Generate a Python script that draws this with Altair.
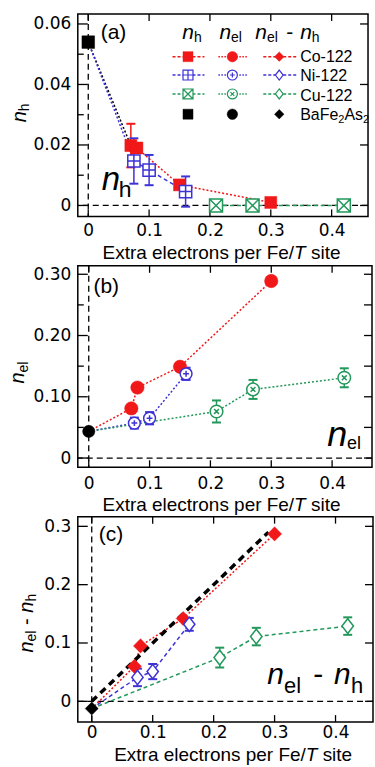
import altair as alt
import pandas as pd

# ---------------- data ----------------
x_co = [0.07, 0.08, 0.15, 0.30]
x_ni = [0.075, 0.10, 0.16]
x_cu = [0.21, 0.27, 0.42]
x_ba = [0.0]

nh_co = [0.0198, 0.0190, 0.0068, 0.0010]
nh_co_err = [0.0072, 0.0, 0.0, 0.0]
nh_ni = [0.0147, 0.0117, 0.0046]
nh_ni_err = [0.0075, 0.0050, 0.0050]
nh_cu = [0.0, 0.0, 0.0]
nh_ba = [0.054]

nel_co = [0.081, 0.115, 0.149, 0.289]
nel_ni = [0.057, 0.065, 0.1375]
nel_ni_err = [0.009, 0.010, 0.010]
nel_cu = [0.076, 0.112, 0.131]
nel_cu_err = [0.018, 0.0155, 0.0155]
nel_ba = [0.0435]

dn_co = [0.060, 0.095, 0.142, 0.287]
dn_ni = [0.041, 0.051, 0.132]
dn_ni_err = [0.015, 0.013, 0.011]
dn_cu = [0.075, 0.111, 0.129]
dn_cu_err = [0.017, 0.015, 0.015]
dn_ba = [-0.0125]

guide_x = [0.0, 0.29]
guide_y = [0.0, 0.29]

x_tick_vals = [0, 0.1, 0.2, 0.3, 0.4]
legend_names = ["Co-122", "Ni-122", "Cu-122"]

# ---------------- styles ----------------
RED = "#f01818"
BLUE = "#3d32d6"
GREEN = "#22985a"
BLACK = "#000000"
SQ_PLUS = "M-1,-1L1,-1L1,1L-1,1ZM-1,0L1,0M0,-1L0,1"
SQ_X = "M-1,-1L1,-1L1,1L-1,1ZM-1,-1L1,1M-1,1L1,-1"
CIRC = "M-1,0A1,1,0,1,1,1,0A1,1,0,1,1,-1,0Z"
CIRC_PLUS = CIRC + "M-0.5,0L0.5,0M0,-0.5L0,0.5"
CIRC_X = CIRC + "M-0.38,-0.38L0.38,0.38M-0.38,0.38L0.38,-0.38"
DIAM_OPEN = "M0,-1L0.78,0L0,1L-0.78,0Z"
DOT = [2, 2]
DASH = [4, 3]
SANS = "Liberation Sans"


def axes_for(xdom, ydom, ymaj, yfmt, xlabpad):
    xsc = alt.Scale(domain=xdom, nice=False, zero=False)
    ysc = alt.Scale(domain=ydom, nice=False, zero=False)
    xax = alt.Axis(values=x_tick_vals, title=None, labelPadding=xlabpad,
                   labelExpr="datum.value == 0 ? '0' : format(datum.value, '.1f')",
                   labelFlush=False, labelOverlap=False)
    yax = alt.Axis(values=ymaj, title=None, labelPadding=7, labelOverlap=False,
                   labelExpr="datum.value == 0 ? '0' : format(datum.value, '" + yfmt + "')")

    def X(f):
        return alt.X(f + ":Q", scale=xsc, axis=xax)

    def Y(f):
        return alt.Y(f + ":Q", scale=ysc, axis=yax)
    return X, Y


def frame_layers(X, Y, W, H, ymaj, ymin, rvals):
    out = []
    z = pd.DataFrame({"v": [0.0]})
    out.append(alt.Chart(z).mark_rule(color=BLACK, strokeWidth=1.3, strokeDash=[6, 4]).encode(x=X("v")))
    out.append(alt.Chart(z).mark_rule(color=BLACK, strokeWidth=1.3, strokeDash=[6, 4]).encode(y=Y("v")))
    xt = pd.DataFrame({"v": x_tick_vals})
    out.append(alt.Chart(xt).mark_rule(color=BLACK, strokeWidth=1.3).encode(
        x=X("v"), y=alt.value(H), y2=alt.value(H - 7)))
    out.append(alt.Chart(xt).mark_rule(color=BLACK, strokeWidth=1.3).encode(
        x=X("v"), y=alt.value(0), y2=alt.value(7)))
    out.append(alt.Chart(pd.DataFrame({"v": ymaj})).mark_rule(color=BLACK, strokeWidth=1.3).encode(
        y=Y("v"), x=alt.value(0), x2=alt.value(10)))
    if ymin:
        out.append(alt.Chart(pd.DataFrame({"v": ymin})).mark_rule(color=BLACK, strokeWidth=1.3).encode(
            y=Y("v"), x=alt.value(0), x2=alt.value(6)))
    out.append(alt.Chart(pd.DataFrame({"v": rvals})).mark_rule(color=BLACK, strokeWidth=1.3).encode(
        y=Y("v"), x=alt.value(W), x2=alt.value(W - 8)))
    return out


def line(X, Y, xv, yv, color, dash, sw=1.5):
    df = pd.DataFrame({"x": xv, "y": yv, "o": list(range(len(xv)))})
    return alt.Chart(df).mark_line(color=color, strokeDash=dash, strokeWidth=sw).encode(
        x=X("x"), y=Y("y"), order="o:Q")


def points(X, Y, xv, yv, shape, color, size, fill, sw=1.5):
    df = pd.DataFrame({"x": xv, "y": yv})
    return alt.Chart(df).mark_point(shape=shape, size=size, filled=True, fill=fill, stroke=color,
                                    strokeWidth=sw, opacity=1, fillOpacity=1).encode(x=X("x"), y=Y("y"))


def errs(X, Y, xv, yv, ev, color):
    rows = [(a, b - e, b + e) for a, b, e in zip(xv, yv, ev) if e > 0]
    df = pd.DataFrame(rows, columns=["x", "lo", "hi"])
    r = alt.Chart(df).mark_rule(color=color, strokeWidth=1.5).encode(x=X("x"), y=Y("lo"), y2="hi:Q")
    c1 = alt.Chart(df).mark_tick(orient="horizontal", color=color, size=9, thickness=2, opacity=1).encode(
        x=X("x"), y=Y("lo"))
    c2 = alt.Chart(df).mark_tick(orient="horizontal", color=color, size=9, thickness=2, opacity=1).encode(
        x=X("x"), y=Y("hi"))
    return [r, c1, c2]


def texts(rows, font=SANS, style="normal", angle=0, align="left", baseline="alphabetic"):
    df = pd.DataFrame(rows, columns=["t", "px", "py", "fs"])
    return alt.Chart(df).mark_text(font=font, fontStyle=style, align=align, baseline=baseline,
                                   angle=angle, color=BLACK).encode(
        x=alt.X("px:Q", scale=None, axis=None),
        y=alt.Y("py:Q", scale=None, axis=None),
        text="t:N",
        size=alt.Size("fs:Q", scale=None, legend=None))


def pix_points(rows, shape, color, size, fill, sw=1.5):
    df = pd.DataFrame(rows, columns=["px", "py"])
    return alt.Chart(df).mark_point(shape=shape, size=size, filled=True, fill=fill, stroke=color,
                                    strokeWidth=sw, opacity=1, fillOpacity=1).encode(
        x=alt.X("px:Q", scale=None, axis=None), y=alt.Y("py:Q", scale=None, axis=None))


def pix_rule(x1, x2, y, color, dash):
    df = pd.DataFrame({"px": [x1], "px2": [x2], "py": [y]})
    return alt.Chart(df).mark_rule(color=color, strokeDash=dash, strokeWidth=1.5).encode(
        x=alt.X("px:Q", scale=None, axis=None), x2="px2:Q", y=alt.Y("py:Q", scale=None, axis=None))


def xtitle(xt, base, size=19):
    return [
        texts([("Extra electrons per Fe/", xt, base, size)], align="right"),
        texts([("T", xt, base, size)], style="italic"),
        texts([("site", xt + 0.61 * size + 0.28 * size, base, size)]),
    ]


# ---------------- panel (a) ----------------
WA, HA = 291, 203
Xa, Ya = axes_for([-0.0172, 0.4598], [-0.00363, 0.0633], [0, 0.02, 0.04, 0.06], ".2f", 6.5)
La = frame_layers(Xa, Ya, WA, HA, [0, 0.02, 0.04, 0.06], [0.01, 0.03, 0.05], [0, 0.02, 0.04, 0.06])
La += [
    line(Xa, Ya, x_ba + [x_co[0]], nh_ba + [nh_co[0]], BLACK, DOT),
    line(Xa, Ya, x_ba + [x_ni[0]], nh_ba + [nh_ni[0]], BLUE, DOT),
    line(Xa, Ya, x_ni, nh_ni, BLUE, DASH),
    line(Xa, Ya, x_co[1:], nh_co[1:], RED, DOT),
    line(Xa, Ya, x_cu, nh_cu, GREEN, DASH),
]
La += errs(Xa, Ya, x_co, nh_co, nh_co_err, RED)
La += errs(Xa, Ya, x_ni, nh_ni, nh_ni_err, BLUE)
La += [
    points(Xa, Ya, x_co, nh_co, "square", RED, 144, RED, 0.5),
    points(Xa, Ya, x_ni, nh_ni, SQ_PLUS, BLUE, 150, "white"),
    points(Xa, Ya, x_cu, nh_cu, SQ_X, GREEN, 170, "white"),
    points(Xa, Ya, x_ba, nh_ba, "square", BLACK, 160, BLACK, 0.5),
]
# legend (inside panel a)
cols = {"nh": 110.5, "nel": 155, "dn": 202}
rows_y = [42.8, 61.2, 80.2]
La += [
    pix_rule(95, 127, rows_y[0], RED, [3, 2]), pix_rule(141, 170, rows_y[0], RED, [1.5, 1.5]),
    pix_rule(186, 220, rows_y[0], RED, [3, 2]),
    pix_rule(95, 127, rows_y[1], BLUE, [3, 2]), pix_rule(141, 170, rows_y[1], BLUE, [1.5, 1.5]),
    pix_rule(186, 220, rows_y[1], BLUE, [3, 2]),
    pix_rule(95, 127, rows_y[2], GREEN, [3, 2]), pix_rule(141, 170, rows_y[2], GREEN, [1.5, 1.5]),
    pix_rule(186, 220, rows_y[2], GREEN, [3, 2]),
    pix_points([(cols["nh"], rows_y[0])], "square", RED, 100, RED, 0.5),
    pix_points([(cols["nh"], rows_y[1])], SQ_PLUS, BLUE, 100, "white", 1.2),
    pix_points([(cols["nh"], rows_y[2])], SQ_X, GREEN, 100, "white", 1.2),
    pix_points([(cols["nh"], 100.5)], "square", BLACK, 100, BLACK, 0.5),
    pix_points([(cols["nel"], rows_y[0])], "circle", RED, 110, RED, 0.5),
    pix_points([(cols["nel"], rows_y[1])], CIRC_PLUS, BLUE, 100, "white", 1.2),
    pix_points([(cols["nel"], rows_y[2])], CIRC_X, GREEN, 100, "white", 1.2),
    pix_points([(cols["nel"], 100.5)], "circle", BLACK, 110, BLACK, 0.5),
    pix_points([(cols["dn"], rows_y[0])], "diamond", RED, 90, RED, 0.5),
    pix_points([(cols["dn"], rows_y[1])], DIAM_OPEN, BLUE, 100, "white", 1.2),
    pix_points([(cols["dn"], rows_y[2])], DIAM_OPEN, GREEN, 100, "white", 1.2),
    pix_points([(cols["dn"], 100.5)], "diamond", BLACK, 90, BLACK, 0.5),
    texts([("n", 104.7, 25.5, 21), ("n", 142, 25.5, 21), ("n", 178, 25.5, 21), ("n", 223, 25.5, 21)],
          style="italic"),
    texts([("h", 116.4, 28, 14), ("el", 153.7, 28, 14), ("el", 189.7, 28, 14), ("-", 209, 25.5, 21),
           ("h", 234.7, 28, 14)]),
    texts([(legend_names[0], 223, 48.5, 16), (legend_names[1], 223, 67.5, 16),
           (legend_names[2], 223, 86.8, 16), ("BaFe", 223, 106, 16), ("2", 261.2, 109, 11),
           ("As", 267.3, 106, 16), ("2", 286, 109, 11)]),
]
La += [
    texts([("(a)", 23, 25, 21)]),
    texts([("n", 24, 176, 33)], style="italic"),
    texts([("h", 41, 184, 23)]),
    texts([("n", -52, 108.5, 20)], style="italic", angle=270),
    texts([("h", -48.5, 97.4, 14)], angle=270),
]
La += xtitle(144 - 119.3 + 192.2, HA + 42.8)
La.append(alt.Chart(pd.DataFrame({"a": [0]})).mark_rule(opacity=0, strokeWidth=0.1).encode(
    x=alt.value(-77), x2=alt.value(-77), y=alt.value(-11.5), y2=alt.value(-11.5)))
pa = alt.layer(*La).properties(width=WA, height=HA)

# ---------------- panel (b) ----------------
WB, HB = 295, 202
Xb, Yb = axes_for([-0.018, 0.4656], [-0.0151, 0.3138], [0, 0.1, 0.2, 0.3], ".2f", 8)
Lb = frame_layers(Xb, Yb, WB, HB, [0, 0.1, 0.2, 0.3], [0.05, 0.15, 0.25],
                  [0, 0.05, 0.1, 0.15, 0.2, 0.25, 0.3])
Lb += [
    line(Xb, Yb, x_ba + x_co, nel_ba + nel_co, RED, DOT),
    line(Xb, Yb, x_ba + x_ni, nel_ba + nel_ni, BLUE, DOT),
    line(Xb, Yb, x_ba + x_cu, nel_ba + nel_cu, GREEN, DOT),
]
Lb += errs(Xb, Yb, x_ni, nel_ni, nel_ni_err, BLUE)
Lb += errs(Xb, Yb, x_cu, nel_cu, nel_cu_err, GREEN)
Lb += [
    points(Xb, Yb, x_co, nel_co, "circle", RED, 180, RED, 0.5),
    points(Xb, Yb, x_ni, nel_ni, CIRC_PLUS, BLUE, 140, "white"),
    points(Xb, Yb, x_cu, nel_cu, CIRC_X, GREEN, 160, "white"),
    points(Xb, Yb, x_ba, nel_ba, "circle", BLACK, 150, BLACK, 0.5),
    texts([("(b)", 15.7, 27, 21)]),
    texts([("n", 250, 181, 36)], style="italic"),
    texts([("el", 270, 184, 18)]),
    texts([("n", -53.5, 118, 20)], style="italic", angle=270),
    texts([("el", -50, 106.9, 14)], angle=270),
]
Lb += xtitle(144 - 119.3 + 192.2, HB + 44.3)
pb = alt.layer(*Lb).properties(width=WB, height=HB)

# ---------------- panel (c) ----------------
WC, HC = 296, 206
Xc, Yc = axes_for([-0.0229, 0.4615], [-0.0356, 0.3166], [0, 0.1, 0.2, 0.3], ".1f", 2.5)
Lc = frame_layers(Xc, Yc, WC, HC, [0, 0.1, 0.2, 0.3], [], [0, 0.1, 0.2, 0.3])
Lc += [
    line(Xc, Yc, x_ba + x_cu, dn_ba + dn_cu, GREEN, DASH),
    line(Xc, Yc, x_ba + x_ni, dn_ba + dn_ni, BLUE, DASH),
    line(Xc, Yc, x_ba + x_co, dn_ba + dn_co, RED, DOT),
    line(Xc, Yc, guide_x, guide_y, BLACK, [7, 5], 3.5),
]
Lc += errs(Xc, Yc, x_ni, dn_ni, dn_ni_err, BLUE)
Lc += errs(Xc, Yc, x_cu, dn_cu, dn_cu_err, GREEN)
Lc += [
    points(Xc, Yc, x_co, dn_co, "diamond", RED, 200, RED, 0.5),
    points(Xc, Yc, x_ni, dn_ni, DIAM_OPEN, BLUE, 210, "white"),
    points(Xc, Yc, x_cu, dn_cu, DIAM_OPEN, GREEN, 220, "white"),
    points(Xc, Yc, x_ba, dn_ba, "diamond", BLACK, 170, BLACK, 0.5),
    texts([("(c)", 21, 24.5, 21)]),
    texts([("n", 190, 167.5, 30), ("n", 257, 167.5, 30)], style="italic"),
    texts([("el", 206.7, 176.5, 22), ("-", 236, 167.5, 30), ("h", 274, 176.5, 22)]),
    texts([("n", -45, 136.2, 20), ("n", -45, 96.3, 20)], style="italic", angle=270),
    texts([("el", -41.5, 125.1, 14), ("-", -45, 108.6, 20), ("h", -41.5, 85.2, 14)], angle=270),
]
Lc += xtitle(155.7 - 119.3 + 192.2, HC + 38.8)
pc = alt.layer(*Lc).properties(width=WC, height=HC)

chart = alt.vconcat(pa, pb, pc, spacing=49.5, bounds="flush").properties(
    padding=0
).configure_view(
    stroke=BLACK, strokeWidth=1.5
).configure_axis(
    labelFont="DejaVu Sans", labelFontSize=17, labelColor=BLACK,
    grid=False, domain=False, ticks=False, tickSize=0
)

chart.save("out.html", embed_options={"renderer": "svg", "actions": False})
